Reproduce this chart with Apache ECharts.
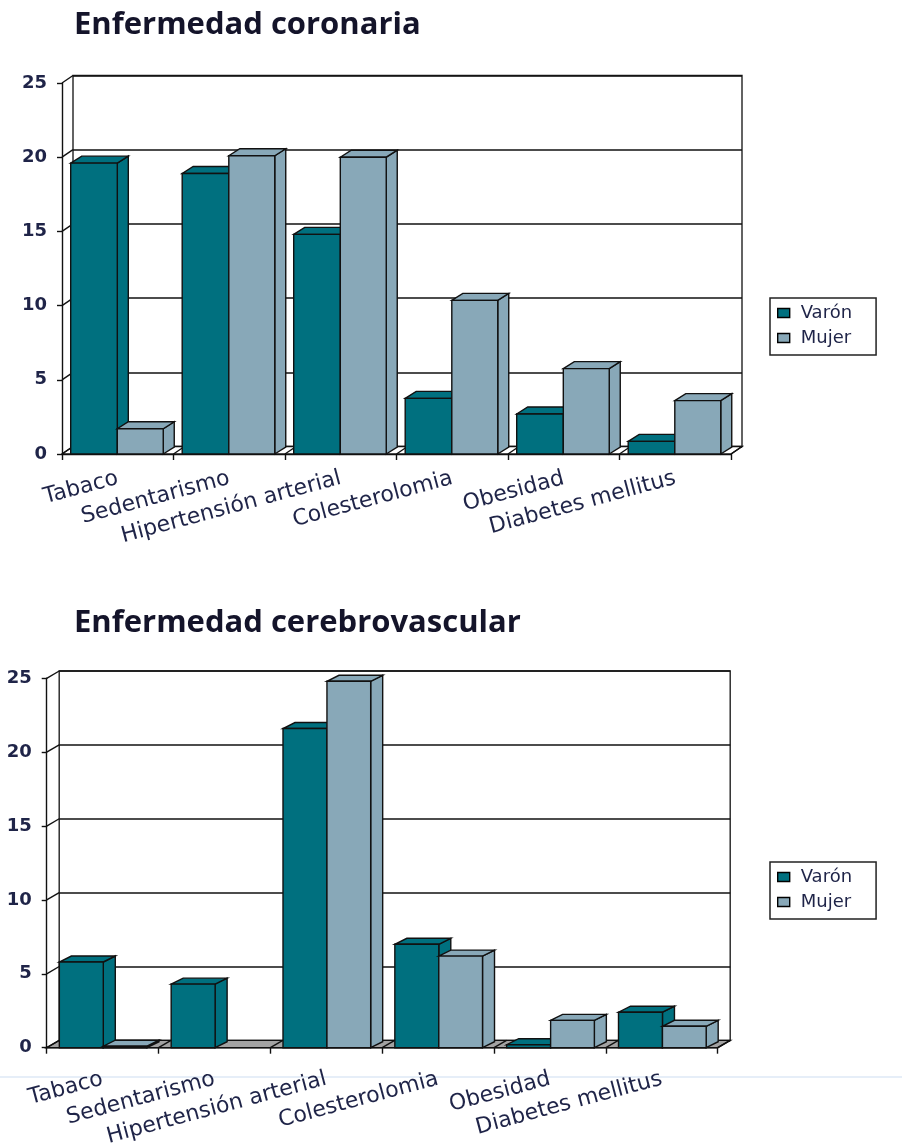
<!DOCTYPE html>
<html>
<head>
<meta charset="utf-8">
<script src="https://cdn.jsdelivr.net/npm/echarts@6/dist/echarts.min.js"></script>
<style>
  html, body { margin: 0; padding: 0; background: #ffffff; }
  #chart { width: 902px; height: 1145px; }
</style>
</head>
<body>
<div id="chart"></div>
<script>
// Risk factors (categories) and prevalence values per sex
const categories = ['Tabaco', 'Sedentarismo', 'Hipertensión arterial', 'Colesterolomia', 'Obesidad', 'Diabetes mellitus'];
const yTicks = [0, 5, 10, 15, 20, 25];
const seriesNames = ['Varón', 'Mujer'];
const titles = ['Enfermedad coronaria', 'Enfermedad cerebrovascular'];

const coronariaVaron = [19.6, 18.9, 14.8, 3.75, 2.7, 0.85];
const coronariaMujer = [1.7, 20.1, 20.0, 10.35, 5.75, 3.6];
const cerebroVaron = [5.8, 4.3, 21.6, 7.0, 0.2, 2.4];
const cerebroMujer = [0.1, 0, 24.8, 6.2, 1.85, 1.45];

const LABEL_FONT = '"DejaVu Sans", Verdana, sans-serif';
const TITLE_FONT = '"Open Sans", "DejaVu Sans", sans-serif';
const TEXT_COLOR = '#1f2448';
const COLORS = ['#00707f', '#88a8b8'];

// Layout of each panel: front plane of the 3D box, depth shift of walls and bars
const panels = [
  {
    title: titles[0], values: [coronariaVaron, coronariaMujer], titleTop: 5,
    front: { left: 62, right: 171, top: 83, bottom: 691 },
    wallShift: [11, -7.5], barShift: [11, -7],
    slots: [[0.078, 0.496], [0.496, 0.908]],
    floor: '#ffffff', legendTop: 298, labelMargin: 24
  },
  {
    title: titles[1], values: [cerebroVaron, cerebroMujer], titleTop: 603,
    front: { left: 46.7, right: 184.3, top: 678.3, bottom: 97.3 },
    wallShift: [12.5, -7.3], barShift: [12, -6],
    slots: [[0.113, 0.506], [0.506, 0.897]],
    floor: '#a3a3a3', legendTop: 862, labelMargin: 31
  }
];

const EDGE = { stroke: '#111111', lineWidth: 1.4 };

// Floor strip and left side wall of the 3D box
function frameRenderer(p) {
  return function (params, api) {
    const w = api.size([1, 0])[0];
    const dx = p.wallShift[0], dy = p.wallShift[1];
    const xs = api.coord([0, 0])[0] - w / 2;
    const xe = api.coord([categories.length - 1, 0])[0] + w / 2;
    const y0 = api.coord([0, 0])[1];
    const children = [];
    children.push({
      type: 'polygon',
      shape: { points: [[xs, y0], [xe, y0], [xe + dx, y0 + dy], [xs + dx, y0 + dy]] },
      style: Object.assign({ fill: p.floor }, EDGE)
    });
    for (let i = 1; i <= categories.length; i++) {
      const bx = xs + w * i;
      children.push({ type: 'line', shape: { x1: bx, y1: y0, x2: bx + dx, y2: y0 + dy }, style: EDGE });
    }
    yTicks.forEach(function (t) {
      const y = api.coord([0, t])[1];
      children.push({ type: 'line', shape: { x1: xs, y1: y, x2: xs + dx, y2: y + dy }, style: EDGE });
    });
    return { type: 'group', children: children };
  };
}

// Box-shaped bar: front face, right side face and top face
function barRenderer(p, k) {
  return function (params, api) {
    const ci = api.value(0);
    const v = api.value(1);
    if (!(v > 0)) return;
    const w = api.size([1, 0])[0];
    const c = api.coord([ci, 0]);
    const y0 = c[1];
    const y1 = api.coord([ci, v])[1];
    const x0 = c[0] - w / 2 + w * p.slots[k][0];
    const x1 = c[0] - w / 2 + w * p.slots[k][1];
    const dx = p.barShift[0], dy = p.barShift[1];
    const style = Object.assign({ fill: api.visual('color') }, EDGE);
    return {
      type: 'group',
      children: [
        { type: 'polygon', shape: { points: [[x1, y0], [x1 + dx, y0 + dy], [x1 + dx, y1 + dy], [x1, y1]] }, style: style },
        { type: 'polygon', shape: { points: [[x0, y1], [x1, y1], [x1 + dx, y1 + dy], [x0 + dx, y1 + dy]] }, style: style },
        { type: 'rect', shape: { x: x0, y: y1, width: x1 - x0, height: y0 - y1 }, style: style }
      ]
    };
  };
}

const grid = [], xAxis = [], yAxis = [], series = [], legend = [], title = [];

panels.forEach(function (p, pi) {
  const f = p.front;
  const dx = p.wallShift[0], dy = p.wallShift[1];
  const gFront = grid.length;
  grid.push({
    left: f.left, right: f.right, top: f.top, bottom: f.bottom,
    containLabel: false, outerBoundsMode: 'none', z: 3
  });
  const gBack = grid.length;
  grid.push({
    left: f.left + dx, right: f.right - dx, top: f.top + dy, bottom: f.bottom - dy,
    containLabel: false, outerBoundsMode: 'none',
    show: true, backgroundColor: '#ffffff', borderColor: '#222222', borderWidth: 1.4, z: 0
  });

  xAxis.push({
    type: 'category', gridIndex: gFront, data: categories,
    axisLine: { lineStyle: { color: '#111111', width: 1.4 } },
    axisTick: { show: true, length: 6, lineStyle: { color: '#111111', width: 1.4 } },
    axisLabel: {
      interval: 0, rotate: 15, margin: p.labelMargin, hideOverlap: false,
      fontFamily: LABEL_FONT, fontSize: 22, color: TEXT_COLOR
    }
  });
  xAxis.push({ type: 'category', gridIndex: gBack, data: categories, show: false });

  yAxis.push({
    type: 'value', gridIndex: gFront, min: 0, max: 25, interval: 5,
    axisLine: { show: true, lineStyle: { color: '#111111', width: 1.4 } },
    axisTick: { show: true, length: 5, lineStyle: { color: '#111111', width: 1.4 } },
    splitLine: { show: false },
    axisLabel: { margin: 15, fontFamily: LABEL_FONT, fontSize: 18, fontWeight: 'bold', color: TEXT_COLOR }
  });
  yAxis.push({
    type: 'value', gridIndex: gBack, min: 0, max: 25, interval: 5,
    axisLine: { show: false }, axisTick: { show: false }, axisLabel: { show: false },
    splitLine: { show: true, lineStyle: { color: '#111111', width: 1.5 } }
  });

  const xiFront = pi * 2, yiFront = pi * 2;

  series.push({
    type: 'custom', name: 'marco' + pi, xAxisIndex: xiFront, yAxisIndex: yiFront,
    data: [[0, 0]], renderItem: frameRenderer(p), silent: true, z: 1
  });

  seriesNames.forEach(function (name, k) {
    series.push({
      type: 'custom', name: name, xAxisIndex: xiFront, yAxisIndex: yiFront,
      itemStyle: { color: COLORS[k], borderColor: '#000000', borderWidth: 1.4 },
      data: p.values[k].map(function (v, i) { return [i, v]; }),
      renderItem: barRenderer(p, k), z: 2 + k
    });
  });

  title.push({
    text: p.title, left: 69, top: p.titleTop,
    textStyle: { fontFamily: TITLE_FONT, fontSize: 31, fontWeight: 'bold', color: '#14142a' }
  });

  legend.push({
    orient: 'vertical', left: 770, top: p.legendTop, data: seriesNames,
    icon: 'rect', itemWidth: 12, itemHeight: 9, itemGap: 7,
    borderColor: '#222222', borderWidth: 1.5, padding: [6, 24, 8, 7],
    itemStyle: { borderColor: '#000000', borderWidth: 1.4 },
    textStyle: { fontFamily: LABEL_FONT, fontSize: 18, color: TEXT_COLOR, padding: [0, 0, 0, 6] },
    selectedMode: false
  });
});

const chart = echarts.init(document.getElementById('chart'), null, { renderer: 'canvas' });
chart.setOption({
  animation: false,
  backgroundColor: '#ffffff',
  title: title,
  legend: legend,
  grid: grid,
  xAxis: xAxis,
  yAxis: yAxis,
  series: series,
  graphic: [{
    type: 'line', z: -1, silent: true,
    shape: { x1: 0, y1: 1077, x2: 902, y2: 1077 },
    style: { stroke: '#e6eef8', lineWidth: 2 }
  }]
});
</script>
</body>
</html>
